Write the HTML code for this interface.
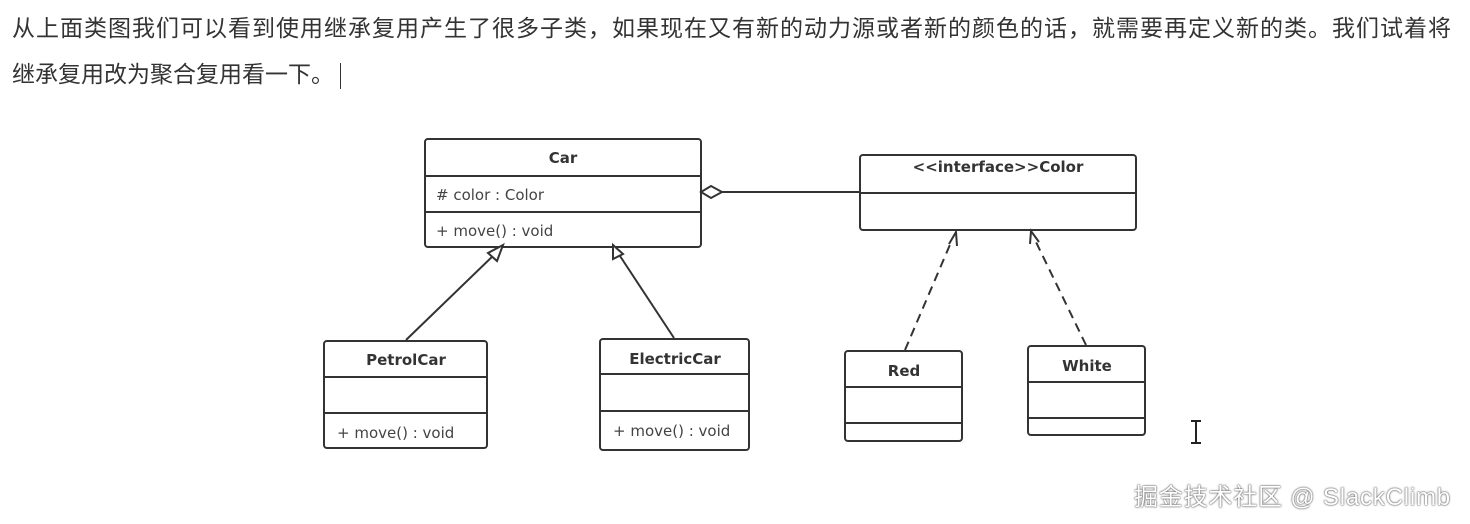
<!DOCTYPE html>
<html><head><meta charset="utf-8"><style>
html,body{margin:0;padding:0;background:#fff;width:1470px;height:524px;overflow:hidden;position:relative}
.t{position:absolute;left:12px;font-family:"Liberation Sans","Noto Sans CJK SC",sans-serif;font-size:23px;letter-spacing:1px;color:#333;white-space:nowrap}
.wm{position:absolute;left:1134px;top:477px;font-family:"Liberation Sans","Noto Sans CJK SC",sans-serif;font-size:24px;letter-spacing:0.8px;color:#fff;text-shadow:0 0 2px #555,0 0 1px #333;white-space:nowrap}
</style></head><body>
<div class="t" style="top:9px">从上面类图我们可以看到使用继承复用产生了很多子类，如果现在又有新的动力源或者新的颜色的话，就需要再定义新的类。我们试着将</div>
<div class="t" style="top:55px;letter-spacing:0">继承复用改为聚合复用看一下。<span style="display:inline-block;width:1px;height:26px;background:#333;vertical-align:middle;margin-left:6px"></span></div>
<svg width="1470" height="524" style="position:absolute;left:0;top:0" font-family="'DejaVu Sans','Liberation Sans',sans-serif">
<g fill="#fff" stroke="#333" stroke-width="2">
<rect x="425" y="139" width="276" height="108" rx="3"/>
<line x1="425" y1="176" x2="701" y2="176"/><line x1="425" y1="212" x2="701" y2="212"/>
<rect x="860" y="155" width="276" height="75" rx="3"/>
<line x1="860" y1="193" x2="1136" y2="193"/>
<rect x="324" y="341" width="163" height="107" rx="3"/>
<line x1="324" y1="377" x2="487" y2="377"/><line x1="324" y1="413" x2="487" y2="413"/>
<rect x="600" y="339" width="149" height="111" rx="3"/>
<line x1="600" y1="374" x2="749" y2="374"/><line x1="600" y1="411" x2="749" y2="411"/>
<rect x="845" y="351" width="117" height="90" rx="3"/>
<line x1="845" y1="387" x2="962" y2="387"/><line x1="845" y1="423" x2="962" y2="423"/>
<rect x="1028" y="346" width="117" height="89" rx="3"/>
<line x1="1028" y1="382" x2="1145" y2="382"/><line x1="1028" y1="418" x2="1145" y2="418"/>
</g>
<g stroke="#333" stroke-width="2" fill="none">
<line x1="722" y1="192" x2="860" y2="192"/>
<polygon points="701,192 711,186 722,192 711,198" fill="#fff"/>
<line x1="406" y1="340" x2="496" y2="253"/>
<polygon points="503,245 488,253 497,261" fill="#fff"/>
<line x1="674" y1="338" x2="620" y2="256"/>
<polygon points="613,245 613,259 623,254" fill="#fff"/>
<line x1="905" y1="350" x2="952" y2="240" stroke-dasharray="9,6"/>
<polyline points="949,244 956,232 957,246"/>
<line x1="1086" y1="345" x2="1035" y2="240" stroke-dasharray="9,6"/>
<polyline points="1030,244 1031,231 1039,242"/>
</g>
<g fill="#333" font-size="15" text-anchor="middle" font-weight="bold">
<text x="563" y="163">Car</text>
<text x="998" y="172">&lt;&lt;interface&gt;&gt;Color</text>
<text x="406" y="365">PetrolCar</text>
<text x="675" y="364">ElectricCar</text>
<text x="904" y="376">Red</text>
<text x="1087" y="371">White</text>
</g>
<g fill="#444" font-size="15">
<text x="436" y="200"># color : Color</text>
<text x="436" y="236">+ move() : void</text>
<text x="337" y="438">+ move() : void</text>
<text x="613" y="436">+ move() : void</text>
</g>
<g stroke="#222" stroke-width="2"><line x1="1196" y1="421" x2="1196" y2="443"/><line x1="1191" y1="421" x2="1201" y2="421"/><line x1="1191" y1="443" x2="1201" y2="443"/></g>
</svg>
<div class="wm">掘金技术社区 @ SlackClimb</div>
</body></html>
